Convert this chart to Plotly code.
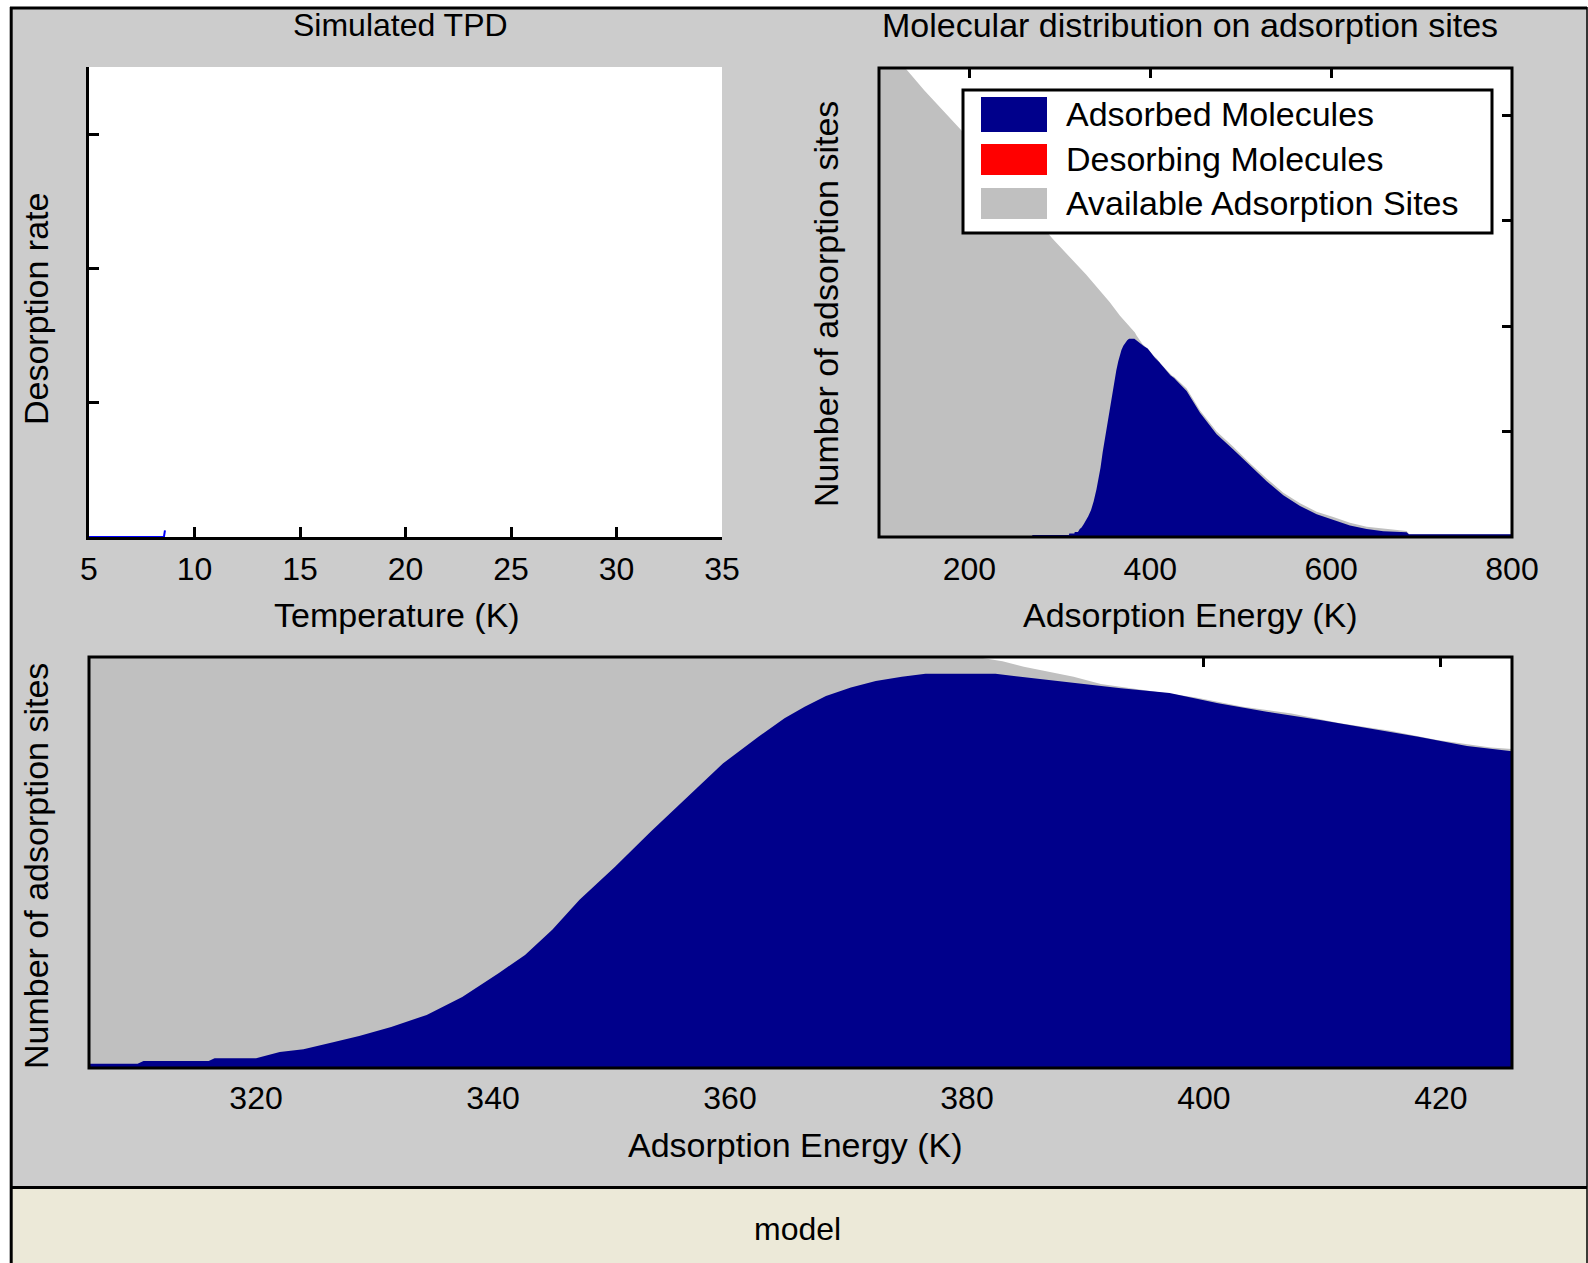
import plotly.graph_objects as go

W, H = 1588, 1263

# ---------------- data ----------------
# Simulated TPD (desorption rate vs temperature) - almost nothing desorbed yet
temperature = [5.0, 6.0, 7.0, 8.0, 8.55, 8.6]
desorption_rate = [0, 0, 0, 0, 0, 0.05]

# Available adsorption sites (grey)
sites_energy = [100, 129, 150, 190, 240, 292, 329, 355, 366.5, 376,
                380.8, 383, 384.8, 386.9, 389, 391.3, 395, 399.2, 403.3, 407.4,
                411.5, 415.6, 419.7, 424.2, 426.3, 440.2, 455, 473.4, 491.8, 510.3,
                528.7, 547.1, 565.6, 584, 602.4, 620.8, 639.3, 657.7, 683.5, 686,
                800]
sites_count = [4.74, 4.45, 4.24, 3.87, 3.36, 2.83, 2.49, 2.23, 2.10, 2.01,
               1.96, 1.94, 1.913, 1.889, 1.866, 1.831, 1.803, 1.768, 1.723, 1.691,
               1.644, 1.609, 1.564, 1.529, 1.52, 1.41, 1.20, 1.00, 0.856, 0.70,
               0.556, 0.42, 0.32, 0.24, 0.19, 0.136, 0.098, 0.079, 0.057, 0.025,
               0.025]

# Adsorbed molecules (blue)
ads_energy = [268, 270, 305, 310, 310.5, 316, 316.5, 320, 322, 324,
              326.5, 328.7, 331.4, 334.4, 337.4, 340.5, 342.7, 345, 347.3, 350.3,
              353.3, 356.4, 359.4, 362.4, 364.6, 366.3, 368.1, 370.2, 372.3, 374.5,
              376.5, 382.4, 384.5, 388.9, 393, 397.1, 401.2, 405.3, 409.8, 414,
              418.1, 422.2, 426.3, 440.2, 455, 473.4, 491.8, 510.3, 528.7, 547.1,
              565.6, 584, 602.4, 620.8, 639.3, 657.7, 683.5, 686, 800]
ads_count = [0, 0.02, 0.02, 0.02, 0.033, 0.033, 0.047, 0.047, 0.076, 0.09,
             0.123, 0.153, 0.196, 0.253, 0.339, 0.453, 0.539, 0.659, 0.802, 0.96,
             1.127, 1.294, 1.452, 1.58, 1.668, 1.723, 1.774, 1.815, 1.846, 1.866,
             1.88, 1.88, 1.866, 1.835, 1.811, 1.788, 1.739, 1.699, 1.66, 1.619,
             1.58, 1.535, 1.509, 1.385, 1.18, 0.975, 0.83, 0.675, 0.53, 0.395,
             0.295, 0.215, 0.165, 0.11, 0.075, 0.055, 0.045, 0.025, 0.025]

tpd_ticks = [5, 10, 15, 20, 25, 30, 35]
dist_ticks = [200, 400, 600, 800]
zoom_ticks = [320, 340, 360, 380, 400, 420]
legend_labels = ["Adsorbed Molecules", "Desorbing Molecules", "Available Adsorption Sites"]
legend_colors = ["#00008B", "#FF0000", "#C0C0C0"]

BLUE = "#00008B"
GREY = "#C0C0C0"
FIG_BG = "#CCCCCC"
FONT = "Liberation Sans, Arial, sans-serif"
FS = 32   # tick labels
FT = 34   # titles / labels


def px(x):
    return x / W


def py(y):
    return 1 - y / H


fig = go.Figure()

# TPD
fig.add_trace(go.Scatter(x=temperature, y=desorption_rate, mode="lines",
                         line=dict(color="#0000FF", width=2),
                         xaxis="x", yaxis="y", showlegend=False))

# distribution panels
for xa, ya in (("x2", "y2"), ("x3", "y3")):
    fig.add_trace(go.Scatter(x=sites_energy, y=sites_count, mode="lines",
                             fill="tozeroy", fillcolor=GREY,
                             line=dict(width=0, color=GREY),
                             xaxis=xa, yaxis=ya, showlegend=False))
    fig.add_trace(go.Scatter(x=ads_energy, y=ads_count, mode="lines",
                             fill="tozeroy", fillcolor=BLUE,
                             line=dict(width=0, color=BLUE),
                             xaxis=xa, yaxis=ya, showlegend=False))

tickfont = dict(family=FONT, size=FS, color="black")
common_tick = dict(ticks="inside", ticklen=10, tickwidth=3, tickcolor="black",
                   tickfont=tickfont, showgrid=False, zeroline=False,
                   automargin=False)

fig.update_layout(
    width=W, height=H, autosize=False, showlegend=False,
    margin=dict(l=0, r=0, t=0, b=0, pad=0, autoexpand=False),
    paper_bgcolor=FIG_BG, plot_bgcolor="white",
    xaxis=dict(domain=[px(89), px(722)], range=[5, 35], tickvals=tpd_ticks,
               showline=True, linewidth=3, linecolor="black", mirror=False,
               anchor="y", ticklabelstandoff=2, **common_tick),
    yaxis=dict(domain=[py(537), py(67)], range=[0, 3.5], tickvals=[0, 1, 2, 3],
               showticklabels=False, showline=True, linewidth=3, linecolor="black",
               mirror=False, anchor="x", **common_tick),
    xaxis2=dict(domain=[px(879), px(1512)], range=[100, 800], tickvals=dist_ticks,
                showline=False, mirror="ticks", layer="below traces",
                anchor="y2", ticklabelstandoff=10, **common_tick),
    yaxis2=dict(domain=[py(537), py(68)], range=[0, 4.45], tickvals=[0, 1, 2, 3, 4],
                showticklabels=False, showline=False, mirror="ticks",
                layer="below traces", anchor="x2", **common_tick),
    xaxis3=dict(domain=[px(89), px(1512)], range=[305.9, 426.0], tickvals=zoom_ticks,
                showline=False, mirror="ticks", layer="below traces",
                anchor="y3", ticklabelstandoff=8, **common_tick),
    yaxis3=dict(domain=[py(1068), py(657)], range=[0, 1.96], tickvals=[0, 1],
                showticklabels=False, showline=False, mirror="ticks",
                layer="below traces", anchor="x3", **common_tick),
)

shapes = []
# boxes of the two distribution axes (drawn above the filled areas)
for xa, ya in (("x2", "y2"), ("x3", "y3")):
    shapes.append(dict(type="rect", xref=xa + " domain", yref=ya + " domain",
                       x0=0, x1=1, y0=0, y1=1, line=dict(color="black", width=3),
                       fillcolor="rgba(0,0,0,0)", layer="above"))

# window frame
shapes += [
    dict(type="rect", xref="paper", yref="paper", x0=0, x1=1, y0=py(7), y1=1,
         fillcolor="white", line=dict(width=0), layer="above"),
    dict(type="rect", xref="paper", yref="paper", x0=0, x1=px(10), y0=0, y1=1,
         fillcolor="white", line=dict(width=0), layer="above"),
    dict(type="rect", xref="paper", yref="paper", x0=px(10), x1=1, y0=0, y1=py(1187),
         fillcolor="#ECE9D8", line=dict(width=0), layer="above"),
    dict(type="line", xref="paper", yref="paper", x0=px(10), x1=px(1587), y0=py(8), y1=py(8),
         line=dict(color="black", width=3), layer="above"),
    dict(type="line", xref="paper", yref="paper", x0=px(11.2), x1=px(11.2), y0=0, y1=py(7),
         line=dict(color="black", width=3), layer="above"),
    dict(type="line", xref="paper", yref="paper", x0=px(1587), x1=px(1587), y0=0, y1=py(7),
         line=dict(color="black", width=1.5), layer="above"),
    dict(type="line", xref="paper", yref="paper", x0=px(10), x1=px(1587), y0=py(1187.5), y1=py(1187.5),
         line=dict(color="black", width=3), layer="above"),
]

# legend box
shapes.append(dict(type="rect", xref="paper", yref="paper",
                   x0=px(963), x1=px(1492), y0=py(233), y1=py(90),
                   fillcolor="white", line=dict(color="black", width=3), layer="above"))
sw_tops = [97, 144, 188]
sw_bots = [132, 175, 219]
for col, t, b in zip(legend_colors, sw_tops, sw_bots):
    shapes.append(dict(type="rect", xref="paper", yref="paper",
                       x0=px(981), x1=px(1047), y0=py(b), y1=py(t),
                       fillcolor=col, line=dict(width=0), layer="above"))
fig.update_layout(shapes=shapes)

anns = []


def txt(text, x, y, angle=0, xanchor="center", size=FT):
    anns.append(dict(text=text, x=px(x), y=py(y), xref="paper", yref="paper",
                     showarrow=False, textangle=angle, xanchor=xanchor, yanchor="middle",
                     font=dict(family=FONT, size=size, color="black")))


txt("Simulated TPD", 400, 25, size=32)
txt("Molecular distribution on adsorption sites", 1190, 25)
txt("Temperature (K)", 397, 615)
txt("Adsorption Energy (K)", 1190, 615)
txt("Adsorption Energy (K)", 795, 1145)
txt("Desorption rate", 36, 309, -90)
txt("Number of adsorption sites", 826, 304, -90)
txt("Number of adsorption sites", 36, 866, -90)
txt("model", 797, 1229, size=32)
for lab, yc in zip(legend_labels, [114, 159, 203]):
    txt(lab, 1064, yc, 0, "left")
fig.update_layout(annotations=anns)

fig.write_html("out.html",
               config={"displayModeBar": False},
               post_script="document.body.style.margin='0px';"
                           "document.body.style.padding='0px';"
                           "document.documentElement.style.overflow='hidden';"
                           "document.body.style.overflow='hidden';")
